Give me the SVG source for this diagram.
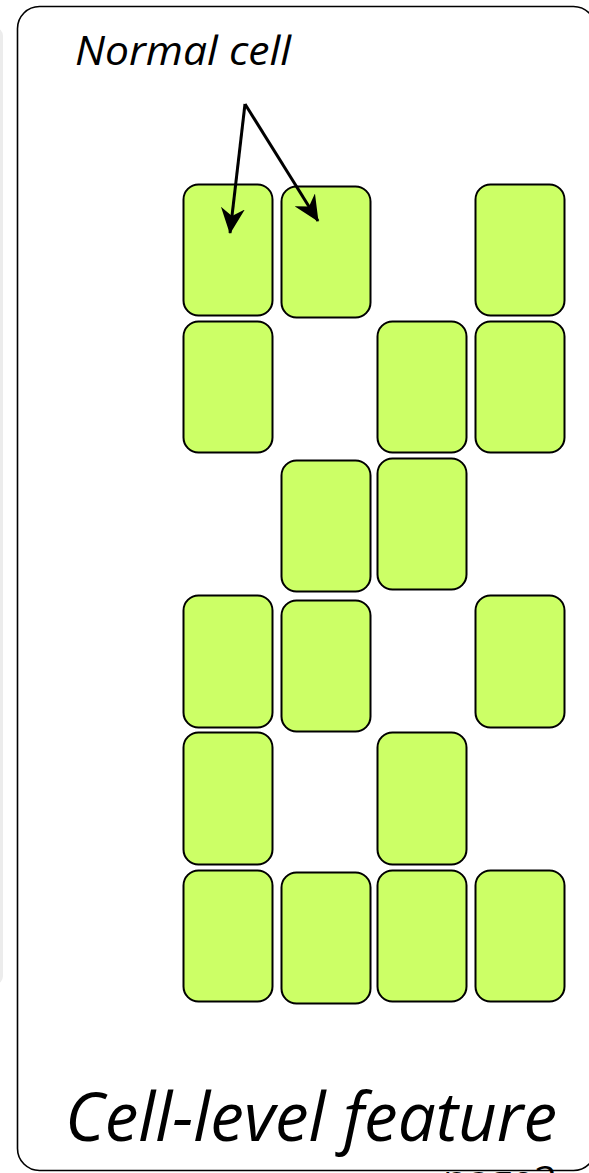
<svg xmlns="http://www.w3.org/2000/svg" width="589" height="1173" viewBox="0 0 589 1173">
<style>
.cell{fill:#ccff66;stroke:#000;stroke-width:2}
.lbl{font-family:"Open Sans","Liberation Sans",sans-serif;font-style:italic;fill:#000}
.conn{stroke:#000;stroke-width:3;fill:none}
</style>
<defs>
<marker id="ah" markerUnits="userSpaceOnUse" viewBox="0 0 26 24" refX="25" refY="12" markerWidth="26" markerHeight="24" orient="auto">
<path d="M0,0 L26,12 L0,24 L8,12 Z" fill="#000"/>
</marker>
</defs>
<rect x="-12" y="28" width="15" height="956" rx="8" fill="#ececec"/>
<g id="frame">
<rect x="17.5" y="6.5" width="578" height="1164" rx="22" fill="none" stroke="#000" stroke-width="1.6"/>
</g>
<g id="label-normal"><text class="lbl" x="75" y="65" font-size="40" textLength="216" lengthAdjust="spacingAndGlyphs">Normal cell</text></g>
<g id="cells">
<rect id="c11" class="cell" x="183.5" y="184.5" width="89" height="131" rx="15"/>
<rect id="c12" class="cell" x="281.5" y="186.5" width="89" height="131" rx="15"/>
<rect id="c14" class="cell" x="475.5" y="184.5" width="89" height="131" rx="15"/>
<rect id="c21" class="cell" x="183.5" y="321.5" width="89" height="131" rx="15"/>
<rect id="c23" class="cell" x="377.5" y="321.5" width="89" height="131" rx="15"/>
<rect id="c24" class="cell" x="475.5" y="321.5" width="89" height="131" rx="15"/>
<rect id="c32" class="cell" x="281.5" y="460.5" width="89" height="131" rx="15"/>
<rect id="c33" class="cell" x="377.5" y="458.5" width="89" height="131" rx="15"/>
<rect id="c41" class="cell" x="183.5" y="595.5" width="89" height="132" rx="15"/>
<rect id="c42" class="cell" x="281.5" y="600.5" width="89" height="131" rx="15"/>
<rect id="c44" class="cell" x="475.5" y="595.5" width="89" height="132" rx="15"/>
<rect id="c51" class="cell" x="183.5" y="732.5" width="89" height="132" rx="15"/>
<rect id="c53" class="cell" x="377.5" y="732.5" width="89" height="132" rx="15"/>
<rect id="c61" class="cell" x="183.5" y="870.5" width="89" height="131" rx="15"/>
<rect id="c62" class="cell" x="281.5" y="872.5" width="89" height="131" rx="15"/>
<rect id="c63" class="cell" x="377.5" y="870.5" width="89" height="131" rx="15"/>
<rect id="c64" class="cell" x="475.5" y="870.5" width="89" height="131" rx="15"/>
</g>
<g id="connectors">
<line class="conn" x1="245" y1="104" x2="230" y2="233" marker-end="url(#ah)"/>
<line class="conn" x1="245" y1="104" x2="318" y2="221" marker-end="url(#ah)"/>
</g>
<g id="label-title"><text class="lbl" x="65" y="1141" font-size="68" textLength="492" lengthAdjust="spacingAndGlyphs">Cell-level feature</text></g>
<g id="label-page"><text x="443" y="1192" font-family="Open Sans, Liberation Sans, sans-serif" font-size="36" fill="#000" textLength="114" lengthAdjust="spacingAndGlyphs">page2</text></g>
</svg>
